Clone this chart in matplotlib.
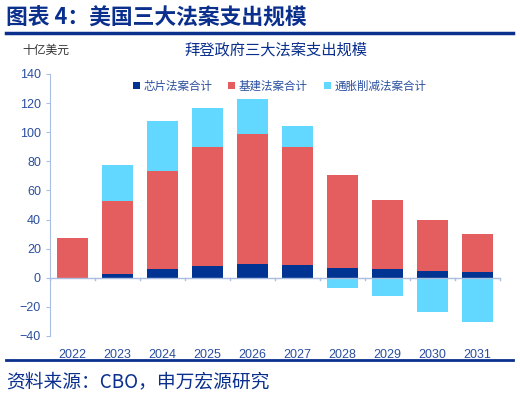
import matplotlib.pyplot as plt
import numpy as np

plt.rcParams['font.family'] = ['Noto Sans CJK SC', 'DejaVu Sans']

years = ['2022', '2023', '2024', '2025', '2026', '2027', '2028', '2029', '2030', '2031']
chips = [0, 2.5, 6.0, 8.2, 9.8, 8.9, 6.9, 5.7, 4.6, 3.9]
infra = [27.0, 50.0, 67.5, 81.6, 88.7, 80.7, 64.0, 47.8, 35.2, 26.5]
ira = [0, 24.8, 34.0, 27.0, 24.5, 15.0, -7.1, -12.3, -23.3, -30.2]
yticks = [-40, -20, 0, 20, 40, 60, 80, 100, 120, 140]

navy = '#003392'
red = '#E45D5F'
cyan = '#62D7FF'
text_blue = '#2A4F9E'
axis_blue = '#A9BEE0'
dark = '#0A2F8C'

fig = plt.figure(figsize=(5.2, 3.95), dpi=100)
ax = fig.add_axes([50 / 520, 1 - 336 / 395, 450 / 520, 262 / 395])

x = np.arange(len(years))
chips = np.array(chips)
infra = np.array(infra)
ira = np.array(ira)
w = 0.68

ax.bar(x, chips, w, color=navy, label='芯片法案合计', zorder=3)
ax.bar(x, infra, w, bottom=chips, color=red, label='基建法案合计', zorder=3)
ira_bottom = np.where(ira > 0, chips + infra, 0)
ax.bar(x, ira, w, bottom=ira_bottom, color=cyan, label='通胀削减法案合计', zorder=3)

ax.set_xlim(-0.5, len(years) - 0.5)
ax.set_ylim(-40, 140)
ax.set_yticks(yticks)
ax.tick_params(axis='y', colors=axis_blue, labelcolor=text_blue, labelsize=9, length=3)
ax.set_xticks(x)
ax.set_xticklabels(years)
ax.tick_params(axis='x', length=0, labelcolor=text_blue, labelsize=9, pad=9)
for lab in ax.get_xticklabels() + ax.get_yticklabels():
    lab.set_family(['Liberation Sans', 'DejaVu Sans'])

# x axis line at zero with ticks between categories
ax.axhline(0, color=axis_blue, lw=1, zorder=4)
for b in np.arange(-0.5, len(years), 1.0):
    ax.plot([b, b], [0, -1.8], color=axis_blue, lw=1, zorder=4, clip_on=False)

for s in ['top', 'right', 'bottom']:
    ax.spines[s].set_visible(False)
ax.spines['left'].set_color(axis_blue)

ax.legend(loc='upper center', bbox_to_anchor=(0.51, 1.0), ncol=3, frameon=False,
          fontsize=8.3, labelcolor=text_blue, handlelength=0.6, handleheight=0.6,
          columnspacing=1.4, handletextpad=0.3, borderaxespad=0.1)

fig.text(0.012, 1 - 18 / 395, '图表 4：美国三大法案支出规模', fontsize=15.7, fontweight='bold',
         color=dark, va='center', ha='left')
fig.add_artist(plt.Line2D([6 / 520, 513 / 520], [1 - 33 / 395, 1 - 33 / 395],
                          color=dark, lw=2.5))
fig.text(22 / 520, 1 - 50 / 395, '十亿美元', fontsize=8.5, color='#333333', va='center')
fig.text(276 / 520, 1 - 50 / 395, '拜登政府三大法案支出规模', fontsize=11, color=dark,
         va='center', ha='center')
fig.add_artist(plt.Line2D([6 / 520, 513 / 520], [1 - 360 / 395, 1 - 360 / 395],
                          color=dark, lw=2))
fig.text(6 / 520, 1 - 382 / 395, '资料来源：CBO，申万宏源研究', fontsize=13.5, color=dark,
         va='center', ha='left')

plt.savefig('out.png', dpi=100)
